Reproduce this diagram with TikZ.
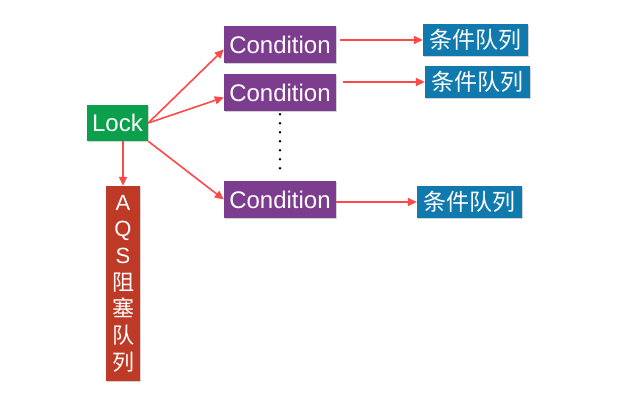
\documentclass[tikz,border=0pt]{standalone}
\usepackage{fontspec}
\setmainfont{Liberation Sans}
\newfontfamily\cjk{Noto Sans CJK SC}
\usetikzlibrary{arrows.meta,shadows}
\definecolor{lockgreen}{HTML}{0BA04B}
\definecolor{condpurple}{HTML}{7D3D8F}
\definecolor{queueblue}{HTML}{1079AE}
\definecolor{aqsred}{HTML}{BE3A27}
\definecolor{arrowred}{HTML}{FF4848}
\tikzset{
  box/.style={inner sep=0pt,text=white,font=\fontsize{24}{28}\selectfont,
    drop shadow={shadow xshift=1pt,shadow yshift=-1pt,opacity=.35}},
  lockbox/.style={box,fill=lockgreen,minimum width=61pt,minimum height=36pt},
  condbox/.style={box,fill=condpurple,minimum width=112pt,minimum height=37pt},
  queuebox/.style={box,fill=queueblue,minimum width=105pt,minimum height=32pt,
    font=\cjk\fontsize{23}{26}\selectfont},
  aqsbox/.style={box,fill=aqsred,minimum width=34pt,minimum height=195pt,
    align=center,font=\fontsize{22}{26.7}\selectfont},
  redarrow/.style={draw=arrowred,line width=1.6pt,-{Triangle[length=9pt,width=8pt]}}
}
\begin{document}
\begin{tikzpicture}[x=1pt,y=-1pt]
  \useasboundingbox (0,0) rectangle (626,413);
  % boxes
  \node[lockbox] (lock) at (117.5,123) {Lock};
  \node[condbox] (cond1) at (280,44.5) {Condition};
  \node[condbox] (cond2) at (280,92.5) {Condition};
  \node[condbox] (cond3) at (280,199.5) {Condition};
  \node[queuebox] (queue1) at (475.5,40) {条件队列};
  \node[queuebox] (queue2) at (477.5,82) {条件队列};
  \node[queuebox] (queue3) at (469.5,202) {条件队列};
  \node[aqsbox] (aqs) at (123,283.5)
    {A\\Q\\S\\{\cjk 阻}\\{\cjk 塞}\\{\cjk 队}\\{\cjk 列}};
  % lock to conditions
  \draw[redarrow] (lock.east) -- (cond1.185);
  \draw[redarrow] (lock.east) -- (cond2.185);
  \draw[redarrow] (lock.south east) -- (cond3.west);
  \draw[redarrow] (lock.south -| aqs.north) -- (aqs.north);
  % conditions to queues
  \draw[redarrow,shorten <=4pt] (cond1.east |- queue1.west) -- (queue1.west);
  \draw[redarrow,shorten <=7pt] (cond2.east |- queue2.west) -- (queue2.west);
  \draw[redarrow] (cond3.east |- queue3.west) -- (queue3.west);
  % dots between conditions
  \draw[line width=2.8pt,line cap=round,dash pattern=on 0pt off 9pt]
    ([yshift=-3pt]cond2.south) -- ([yshift=5pt]cond3.north);
\end{tikzpicture}
\end{document}
